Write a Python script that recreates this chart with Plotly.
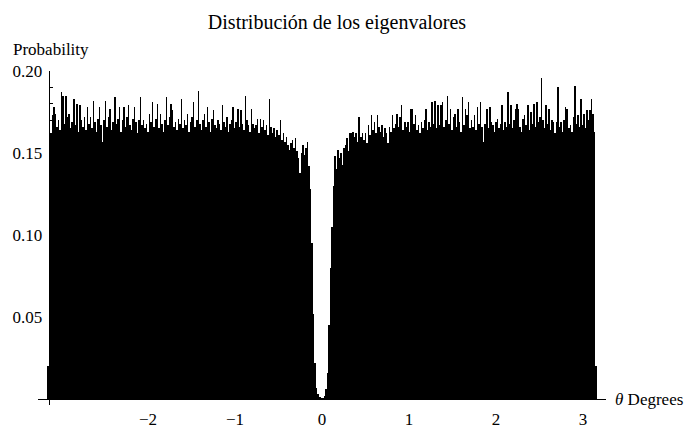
import math
import plotly.graph_objects as go

# ---- data ----
n_bins = 360
theta_min = -math.pi
theta_max = math.pi

prob = [
    0.155, 0.162, 0.173, 0.178, 0.174, 0.166, 0.170, 0.164, 0.187, 0.185,
    0.168, 0.185, 0.172, 0.174, 0.165, 0.169, 0.183, 0.167, 0.180, 0.163,
    0.179, 0.170, 0.166, 0.172, 0.164, 0.178, 0.168, 0.172, 0.165, 0.182,
    0.169, 0.163, 0.171, 0.178, 0.167, 0.157, 0.170, 0.182, 0.166, 0.172,
    0.177, 0.164, 0.169, 0.184, 0.168, 0.171, 0.178, 0.163, 0.170, 0.178,
    0.166, 0.172, 0.179, 0.167, 0.164, 0.171, 0.178, 0.169, 0.162, 0.170,
    0.184, 0.167, 0.170, 0.165, 0.168, 0.163, 0.174, 0.169, 0.181, 0.166,
    0.171, 0.180, 0.165, 0.174, 0.168, 0.163, 0.170, 0.184, 0.167, 0.172,
    0.180, 0.176, 0.166, 0.169, 0.164, 0.171, 0.168, 0.183, 0.165, 0.170,
    0.167, 0.174, 0.163, 0.169, 0.172, 0.181, 0.166, 0.170, 0.188, 0.168,
    0.164, 0.170, 0.174, 0.166, 0.178, 0.169, 0.163, 0.171, 0.176, 0.167,
    0.165, 0.170, 0.168, 0.164, 0.179, 0.169, 0.166, 0.172, 0.163, 0.168,
    0.170, 0.178, 0.165, 0.169, 0.177, 0.166, 0.176, 0.168, 0.164, 0.185,
    0.170, 0.167, 0.163, 0.177, 0.168, 0.165, 0.167, 0.171, 0.162, 0.171,
    0.166, 0.170, 0.164, 0.167, 0.161, 0.183, 0.166, 0.162, 0.165, 0.160,
    0.164, 0.161, 0.170, 0.158, 0.162, 0.157, 0.160, 0.155, 0.152, 0.156,
    0.158, 0.153, 0.159, 0.151, 0.147, 0.138, 0.150, 0.155, 0.149, 0.153,
    0.157, 0.142, 0.128, 0.095, 0.052, 0.022, 0.007, 0.003, 0.0012, 0.0008,
    0.0008, 0.002, 0.006, 0.016, 0.045, 0.080, 0.105, 0.130, 0.148, 0.140,
    0.152, 0.147, 0.150, 0.143, 0.153, 0.155, 0.159, 0.151, 0.162, 0.162,
    0.163, 0.160, 0.162, 0.157, 0.172, 0.160, 0.162, 0.158, 0.162, 0.156,
    0.167, 0.161, 0.173, 0.164, 0.169, 0.162, 0.173, 0.166, 0.163, 0.167,
    0.160, 0.165, 0.162, 0.156, 0.166, 0.163, 0.173, 0.165, 0.168, 0.174,
    0.166, 0.172, 0.179, 0.164, 0.169, 0.166, 0.169, 0.163, 0.177, 0.177,
    0.168, 0.173, 0.164, 0.167, 0.162, 0.169, 0.165, 0.170, 0.177, 0.164,
    0.169, 0.166, 0.181, 0.168, 0.182, 0.165, 0.179, 0.167, 0.179, 0.181,
    0.166, 0.170, 0.185, 0.168, 0.177, 0.164, 0.172, 0.174, 0.166, 0.177,
    0.169, 0.163, 0.184, 0.167, 0.177, 0.173, 0.181, 0.165, 0.170, 0.166,
    0.173, 0.164, 0.178, 0.168, 0.181, 0.166, 0.157, 0.168, 0.177, 0.165,
    0.178, 0.169, 0.167, 0.163, 0.169, 0.171, 0.165, 0.168, 0.179, 0.164,
    0.169, 0.166, 0.187, 0.168, 0.179, 0.165, 0.170, 0.177, 0.180, 0.177,
    0.166, 0.163, 0.171, 0.173, 0.167, 0.179, 0.164, 0.175, 0.168, 0.180,
    0.166, 0.181, 0.169, 0.172, 0.196, 0.170, 0.165, 0.179, 0.168, 0.177,
    0.164, 0.170, 0.169, 0.162, 0.169, 0.190, 0.166, 0.169, 0.163, 0.170,
    0.178, 0.177, 0.165, 0.167, 0.163, 0.172, 0.191, 0.168, 0.173, 0.166,
    0.183, 0.167, 0.174, 0.165, 0.176, 0.170, 0.176, 0.183, 0.174, 0.163,
]
# small partial bins just outside -pi and +pi
edge_prob = [0.02, 0.02]

y_tick_vals = [0.05, 0.10, 0.15, 0.20]
y_tick_text = ["0.05", "0.10", "0.15", "0.20"]
y_minor_vals = [0.01, 0.02, 0.03, 0.04, 0.06, 0.07, 0.08, 0.09,
                0.11, 0.12, 0.13, 0.14, 0.16, 0.17, 0.18, 0.19]
x_tick_vals = [-2, -1, 0, 1, 2, 3]
x_tick_text = ["\u22122", "\u22121", "0", "1", "2", "3"]

# ---- bins ----
w = (theta_max - theta_min) / n_bins
centers = [theta_min + (i + 0.5) * w for i in range(n_bins)]
xs = [theta_min - 0.5 * w] + centers + [theta_max + 0.5 * w]
ys = [edge_prob[0]] + prob + [edge_prob[1]]

# ---- layout geometry ----
W, H = 687, 441
ml, mr, mt, mb = 38, 81, 71, 20
xr = [-3.2646, 3.2642]
yr = [-0.00349, 0.2]
ypos = (theta_min - xr[0]) / (xr[1] - xr[0])
xpos = (0 - yr[0]) / (yr[1] - yr[0])
pw = W - ml - mr
ph = H - mt - mb

FONT = "Liberation Serif, Times New Roman, serif"
FS = 17

fig = go.Figure()
fig.add_trace(go.Bar(
    x=xs, y=ys, width=w,
    marker=dict(color="black", line=dict(width=0)),
    hoverinfo="skip",
))

fig.update_layout(
    width=W, height=H,
    margin=dict(l=ml, r=mr, t=mt, b=mb, pad=0),
    paper_bgcolor="white", plot_bgcolor="white",
    bargap=0, showlegend=False,
    font=dict(family=FONT, size=FS, color="black"),
    title=dict(text="Distribución de los eigenvalores",
               x=337 / W, xanchor="center", xref="container",
               y=1 - 22 / H, yanchor="middle", yref="container",
               font=dict(family=FONT, size=20, color="black")),
    xaxis=dict(range=xr, domain=[0, 1], anchor="free", position=xpos,
               showgrid=False, zeroline=False,
               showline=True, linecolor="black", linewidth=1,
               ticks="", tickvals=x_tick_vals, ticktext=x_tick_text,
               tickfont=dict(family=FONT, size=FS, color="black"),
               ticklabelstandoff=4),
    yaxis=dict(range=yr, domain=[0, 1], anchor="free", position=ypos,
               showgrid=False, zeroline=False,
               showline=True, linecolor="black", linewidth=1,
               ticks="inside", ticklen=6, tickwidth=1, tickcolor="black",
               tickvals=y_tick_vals, ticktext=y_tick_text,
               tickfont=dict(family=FONT, size=FS, color="black"),
               ticklabelstandoff=3,
               minor=dict(tickvals=y_minor_vals, ticks="inside", ticklen=3.5,
                          tickwidth=1, tickcolor="black")),
    annotations=[
        dict(text="Probability", xref="paper", yref="paper",
             x=(11 - ml) / pw, y=(H - mb - 48) / ph,
             xanchor="left", yanchor="middle", showarrow=False,
             font=dict(family=FONT, size=FS, color="black")),
        dict(text="<i>θ</i> Degrees", xref="paper", yref="paper",
             x=(685 - ml) / pw, y=xpos,
             xanchor="right", yanchor="middle", showarrow=False,
             font=dict(family=FONT, size=FS, color="black")),
    ],
)

fig.write_html(
    "out.html",
    config={"displayModeBar": False, "staticPlot": True},
    post_script="document.body.style.margin='0';document.body.style.overflow='hidden';",
)
